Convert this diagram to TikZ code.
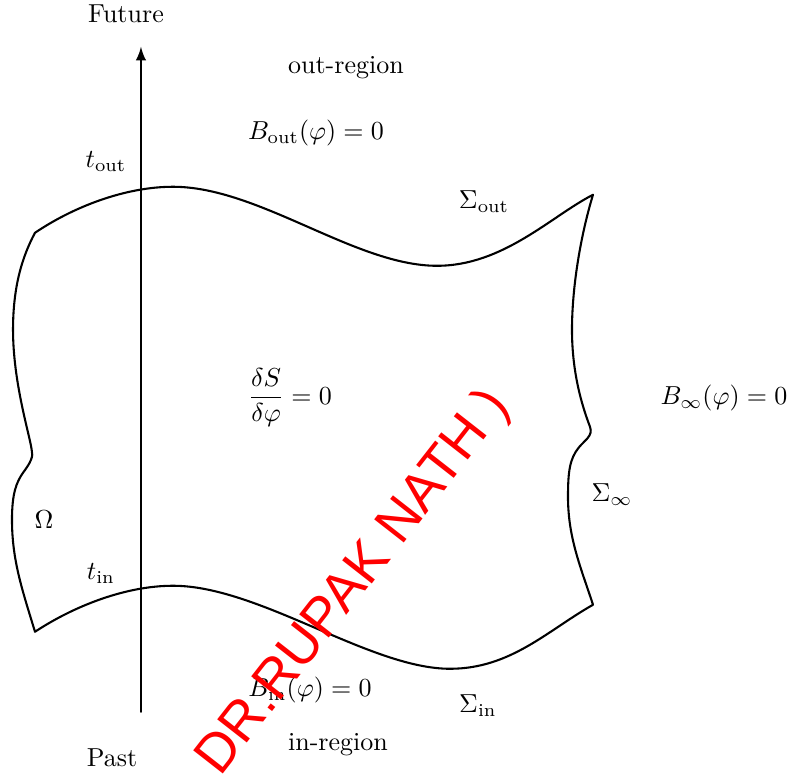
\documentclass[tikz,border=0pt]{standalone}
\usepackage{amsfonts,amssymb,amsmath}
\usepackage{fontspec}
\newfontfamily\wmfont{Liberation Sans}
\usepackage{tikz}

\begin{document}
\begin{tikzpicture}[line join=round, line cap=round]
      \useasboundingbox (0,0) rectangle (10.96,10.47);

      % time axis
      \coordinate (S) at (1.905,0.851);
      \coordinate (T) at (1.905,9.838);
      \draw[thick,-latex] (S) -- (T);

      % corners and turning points of the region
      \coordinate (A) at (0.473,7.324); % top left
      \coordinate (B) at (8.014,7.838); % top right
      \coordinate (C) at (8.014,2.297); % bottom right
      \coordinate (D) at (0.473,1.932); % bottom left
      \coordinate (E) at (2.338,7.946); % top crest
      \coordinate (F) at (5.905,6.878); % top dip
      \coordinate (G) at (6.081,1.432); % bottom dip
      \coordinate (H) at (2.338,2.554); % bottom crest
      \coordinate (I) at (7.730,6.014); % right side
      \coordinate (J) at (7.973,4.703); % right kink
      \coordinate (K) at (7.676,3.757);
      \coordinate (L) at (0.162,3.446); % left side
      \coordinate (M) at (0.428,4.392); % left kink
      \coordinate (N) at (0.176,6.014);

      % boundary of Omega
      \draw[thick] (A) .. controls (1.0,7.68) and (1.7,7.946) .. (E)
            .. controls (3.5,7.946) and (4.8,6.878) .. (F)
            .. controls (6.8,6.878) and (7.45,7.55) .. (B)
            .. controls (7.85,7.3) and (7.73,6.6) .. (I)
            .. controls (7.73,5.4) and (7.88,4.95) .. (J)
            .. controls (8.02,4.58) and (7.9,4.52) .. (7.82,4.42)
            .. controls (7.70,4.27) and (7.676,4.1) .. (K)
            .. controls (7.676,3.2) and (7.85,2.8) .. (C)
            .. controls (7.4,1.95) and (6.9,1.432) .. (G)
            .. controls (5.0,1.432) and (3.5,2.554) .. (H)
            .. controls (1.7,2.554) and (1.0,2.28) .. (D)
            .. controls (0.3,2.5) and (0.162,2.9) .. (L)
            .. controls (0.162,3.8) and (0.22,3.95) .. (0.311,4.081)
            .. controls (0.40,4.2) and (0.46,4.30) .. (M)
            .. controls (0.40,4.6) and (0.176,5.3) .. (N)
            .. controls (0.176,6.6) and (0.30,7.0) .. cycle;

      % labels
      \node (fut) at (1.703,10.284) {Future};
      \node (past) at (1.514,0.230) {Past};
      \node (outreg) at (4.676,9.554) {out-region};
      \node (inreg) at (4.568,0.405) {in-region};
      \node (bout) at (4.270,8.676) {$B_{\text{out}}(\varphi) = 0$};
      \node (bin) at (4.189,1.149) {$B_{\text{in}}(\varphi) = 0$};
      \node (binf) at (9.784,5.095) {$B_{\infty}(\varphi) = 0$};
      \node (tout) at (1.432,8.284) {$t_{\text{out}}$};
      \node (tin) at (1.365,2.716) {$t_{\text{in}}$};
      \node (sout) at (6.541,7.743) {$\Sigma_{\text{out}}$};
      \node (sin) at (6.459,0.932) {$\Sigma_{\text{in}}$};
      \node (sinf) at (8.270,3.784) {$\Sigma_{\infty}$};
      \node (omega) at (0.595,3.446) {$\Omega$};
      \node (eom) at (3.919,5.095) {$\dfrac{\delta S}{\delta\varphi} = 0$};

      % watermark
      \node[rotate=52, text=red, font=\wmfont\fontsize{21}{21}\selectfont] (wm) at (4.79,2.59) {DR.RUPAK NATH )};

\end{tikzpicture}
\end{document}
